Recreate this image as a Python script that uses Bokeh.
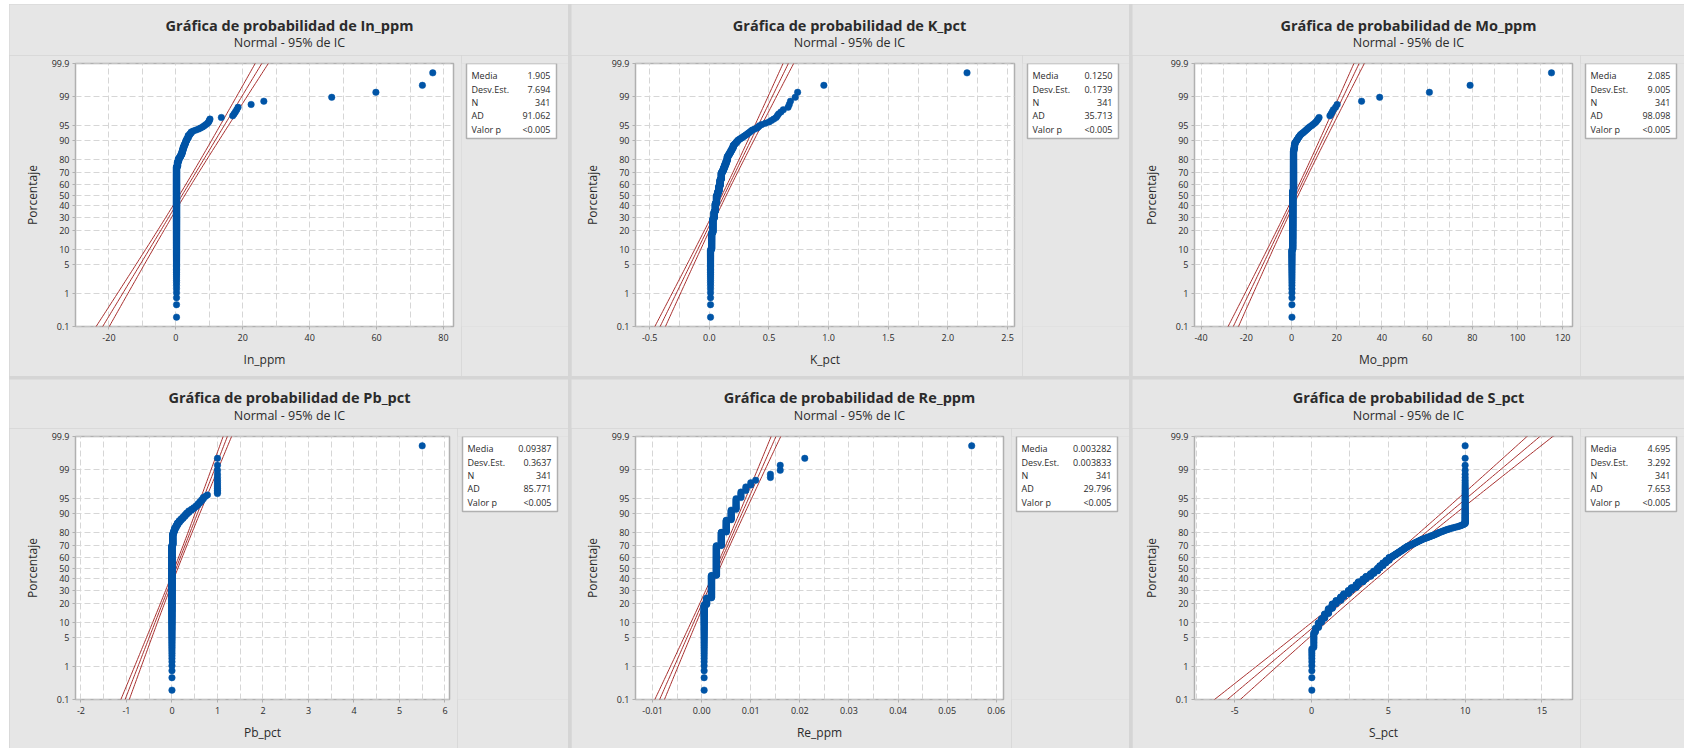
import math
import numpy as np
from bokeh.plotting import figure
from bokeh.layouts import row, column
from bokeh.models import FixedTicker, Range1d, Spacer
from bokeh.core.properties import value
from bokeh.embed import file_html
from bokeh.resources import INLINE

# ---------------- data (sorted values as runs: value, count) ----------------
in_ppm_values = [0.2, 0.5, 0.8, 1.2, 1.5, 1.8, 2.0, 2.2, 2.5, 2.8, 3.0, 3.3, 3.7, 4.2, 4.6,
                 5.2, 6.0, 6.8, 7.4, 8.0, 8.5, 9.0, 9.5, 9.8, 10.0, 10.2, 13.6,
                 17.0, 17.4, 17.8, 18.2, 18.6, 22.5, 26.3, 46.6, 59.8, 73.7, 76.8]
in_ppm_counts = [255, 12, 8, 4, 4, 5, 4, 5, 4, 3, 3, 3, 4, 2, 2] + [1] * 23

k_pct_values = [0.01, 0.02, 0.03, 0.04, 0.05, 0.06, 0.07, 0.08, 0.09, 0.10,
                0.11, 0.12, 0.13, 0.14, 0.15, 0.16, 0.17, 0.18, 0.19, 0.20,
                0.21, 0.22, 0.23, 0.24, 0.25, 0.26, 0.27, 0.28, 0.29, 0.30,
                0.31, 0.32, 0.33, 0.34, 0.35, 0.36, 0.38, 0.40, 0.41, 0.42,
                0.44, 0.47, 0.50, 0.52, 0.54, 0.56, 0.57, 0.58,
                0.60, 0.62, 0.66, 0.67, 0.68, 0.72, 0.74, 0.96, 2.16]
k_pct_counts = [34, 30, 35, 20, 25, 25, 12, 18, 20, 20,
                6, 8, 8, 8, 10, 4, 4, 4, 4, 5,
                2, 2, 2, 2, 1] + [1] * 32

mo_ppm_values = [0.2, 0.6, 0.9, 1.1, 1.3, 1.5, 1.8, 2.0, 2.2, 2.4, 2.6, 2.8, 3.0, 3.2, 3.5, 3.8,
                 4.0, 4.5, 5.0, 5.5, 6.0, 6.5, 7.0, 7.5, 8.0, 8.8,
                 9.5, 10.2, 10.8, 11.3, 11.8, 12.2, 17.0, 17.5, 18.0, 18.5, 19.5, 20.2,
                 31.0, 39.0, 61.0, 79.0, 115.0]
mo_ppm_counts = [34, 150, 106, 5, 5, 4] + [1] * 37

pb_pct_values = [0.0, 0.02, 0.04, 0.06, 0.09, 0.12, 0.16, 0.2, 0.24, 0.28, 0.32, 0.37,
                 0.43, 0.48, 0.53, 0.57, 0.61, 0.65, 0.69, 0.74, 0.78, 1.0, 5.5]
pb_pct_counts = [240, 30, 6, 6, 5, 5, 4, 3, 3, 3, 3, 3, 2, 2, 2, 2, 2, 2, 2, 1, 1, 13, 1]

re_ppm_values = [0.0005, 0.001, 0.002, 0.003, 0.004, 0.005, 0.006, 0.007, 0.008, 0.009,
                 0.010, 0.011, 0.014, 0.016, 0.021, 0.055]
re_ppm_counts = [66, 16, 65, 92, 34, 24, 15, 12, 5, 3, 2, 1, 2, 2, 1, 1]

s_pct_values = [0.02, 0.15, 0.25, 0.45, 0.65, 0.85, 1.1, 1.35, 1.6, 1.9, 2.1, 2.4, 2.6, 2.9,
                3.05, 3.35, 3.55, 3.85, 4.05, 4.3, 4.45, 4.65, 4.85, 5.05,
                5.2, 5.27, 5.33, 5.4, 5.47, 5.53, 5.6, 5.67, 5.73, 5.8, 5.87, 5.93,
                6.0, 6.07, 6.13, 6.2, 6.27,
                6.35, 6.4, 6.45, 6.5, 6.55, 6.6, 6.65, 6.7, 6.75, 6.8, 6.85, 6.9,
                6.95, 7.0, 7.05, 7.1, 7.15,
                7.2, 7.27, 7.34, 7.41, 7.48, 7.55, 7.62, 7.69, 7.76, 7.83, 7.9,
                7.97, 8.04, 8.1, 8.16, 8.22, 8.28, 8.34,
                8.42, 8.5, 8.58, 8.66, 8.74, 8.82, 8.9,
                9.0, 9.12, 9.24, 9.36, 9.5, 9.6, 9.7, 9.78, 9.85, 9.92, 10.0]
s_pct_counts = [10, 12, 5, 7, 6, 8, 10, 10] + [8, 9] * 8 + [2] * 17 + [1] * 52 + [51]

# summary statistics shown in the boxes
stat_names = ["Media", "Desv.Est.", "N", "AD", "Valor p"]
in_ppm_stats = ["1.905", "7.694", "341", "91.062", "<0.005"]
k_pct_stats = ["0.1250", "0.1739", "341", "35.713", "<0.005"]
mo_ppm_stats = ["2.085", "9.005", "341", "98.098", "<0.005"]
pb_pct_stats = ["0.09387", "0.3637", "341", "85.771", "<0.005"]
re_ppm_stats = ["0.003282", "0.003833", "341", "29.796", "<0.005"]
s_pct_stats = ["4.695", "3.292", "341", "7.653", "<0.005"]

# axis ticks
pct_ticks = [0.1, 1, 5, 10, 20, 30, 40, 50, 60, 70, 80, 90, 95, 99, 99.9]
pct_labels = ["0.1", "1", "5", "10", "20", "30", "40", "50", "60", "70", "80", "90", "95", "99", "99.9"]

in_ppm_xticks = [-20, 0, 20, 40, 60, 80]
in_ppm_xlabels = ["-20", "0", "20", "40", "60", "80"]
k_pct_xticks = [-0.5, 0.0, 0.5, 1.0, 1.5, 2.0, 2.5]
k_pct_xlabels = ["-0.5", "0.0", "0.5", "1.0", "1.5", "2.0", "2.5"]
mo_ppm_xticks = [-40, -20, 0, 20, 40, 60, 80, 100, 120]
mo_ppm_xlabels = ["-40", "-20", "0", "20", "40", "60", "80", "100", "120"]
pb_pct_xticks = [-2, -1, 0, 1, 2, 3, 4, 5, 6]
pb_pct_xlabels = ["-2", "-1", "0", "1", "2", "3", "4", "5", "6"]
re_ppm_xticks = [-0.01, 0.0, 0.01, 0.02, 0.03, 0.04, 0.05, 0.06]
re_ppm_xlabels = ["-0.01", "0.00", "0.01", "0.02", "0.03", "0.04", "0.05", "0.06"]
s_pct_xticks = [-5, 0, 5, 10, 15]
s_pct_xlabels = ["-5", "0", "5", "10", "15"]

# ---------------- helpers ----------------
def norm_cdf(z):
    return 0.5 * (1.0 + math.erf(z / math.sqrt(2.0)))

def norm_ppf(p):
    lo, hi = -10.0, 10.0
    for _ in range(80):
        mid = 0.5 * (lo + hi)
        if norm_cdf(mid) < p:
            lo = mid
        else:
            hi = mid
    return 0.5 * (lo + hi)

ZMIN = norm_ppf(0.001)
ZMAX = norm_ppf(0.999)

PANEL = "#e6e6e6"
FRAME = "#b0b0b0"
GRID = "#d6d6d6"
DOT = "#0054a6"
LINE = "#a8302f"
TXT = "#2b2b2b"
FONT = "Open Sans"
FH = 263
BOX_H = 75
TB = 8   # top border of the plot figure
RB = 8   # right border of the plot figure


def blank(width, height, xr, yr, mb=(0, 0, 0, 0)):
    f = figure(width=width, height=height, title=None, output_backend="svg",
               toolbar_location=None, x_range=Range1d(*xr), y_range=Range1d(*yr),
               min_border_left=mb[0], min_border_right=mb[1],
               min_border_top=mb[2], min_border_bottom=mb[3],
               border_fill_color=PANEL, background_fill_color=PANEL,
               outline_line_color=None)
    f.axis.visible = False
    f.grid.visible = False
    return f


def make_panel(name, values, counts, stats, xr, xticks, xlabels,
               pw, ph, top, left, fw, box_w, t_off, s_off):
    x = np.repeat(np.array(values, dtype=float), counts)
    n = len(x)
    z = np.array([norm_ppf((i - 0.3) / (n + 0.4)) for i in range(1, n + 1)])

    main_w = left + fw + RB
    body_h = ph - top + TB
    bottom = body_h - TB - FH

    # title strip
    th = top - TB
    tf = blank(pw, th, (0, pw), (0, th))
    tf.text(x=[left + 214], y=[t_off - TB], text=["Gráfica de probabilidad de " + name],
            text_align="center", text_baseline="middle", text_font=value(FONT),
            text_font_style="bold", text_font_size="14.5px", text_color=TXT)
    tf.text(x=[left + 214], y=[s_off - TB], text=["Normal - 95% de IC"],
            text_align="center", text_baseline="middle", text_font=value(FONT),
            text_font_size="12.5px", text_color=TXT)

    # main probability plot
    p = figure(width=main_w, height=body_h, title=None,
               x_range=Range1d(xr[0], xr[1]), y_range=Range1d(ZMIN - 1e-6, ZMAX + 1e-6),
               output_backend="svg", toolbar_location=None,
               min_border_left=left, min_border_right=RB,
               min_border_top=TB, min_border_bottom=bottom,
               border_fill_color=PANEL, background_fill_color="white",
               outline_line_color=FRAME, outline_line_width=1.5)

    step = xticks[1] - xticks[0]
    minor = [t + step / 2.0 for t in [xticks[0] - step] + xticks]
    p.xaxis.ticker = FixedTicker(ticks=xticks, minor_ticks=minor)
    p.xaxis.major_label_overrides = {t: l for t, l in zip(xticks, xlabels)}
    yt = [norm_ppf(v / 100.0) for v in pct_ticks]
    p.yaxis.ticker = FixedTicker(ticks=yt)
    p.yaxis.major_label_overrides = {t: l for t, l in zip(yt, pct_labels)}

    for ax in (p.xaxis[0], p.yaxis[0]):
        ax.axis_line_color = None
        ax.major_tick_line_color = FRAME
        ax.major_tick_in = 0
        ax.major_tick_out = 3
        ax.minor_tick_line_color = None
        ax.major_label_text_font = FONT
        ax.major_label_text_font_size = "9px"
        ax.major_label_text_color = TXT
        ax.major_label_standoff = 3
        ax.axis_label_text_font = FONT
        ax.axis_label_text_font_size = "12px"
        ax.axis_label_text_font_style = "normal"
        ax.axis_label_text_color = TXT
    p.xaxis.axis_label = name
    p.xaxis.axis_label_standoff = 7
    p.yaxis.axis_label = "Porcentaje"
    p.yaxis.axis_label_standoff = 8

    for g in (p.xgrid[0], p.ygrid[0]):
        g.grid_line_color = GRID
        g.grid_line_dash = "6 3"
        g.grid_line_width = 1
    p.xgrid.minor_grid_line_color = GRID
    p.xgrid.minor_grid_line_dash = "6 3"

    # fitted normal line and 95% confidence bounds from the reported mean / std
    mean = float(stats[0])
    sd = float(stats[1])
    nn = int(stats[2])
    zz = np.linspace(ZMIN - 0.4, ZMAX + 0.4, 121)
    fit = mean + zz * sd
    half = 1.96 * sd / math.sqrt(nn) * np.sqrt(1.0 + zz ** 2 / 2.0)
    for xs in (fit - half, fit, fit + half):
        p.line(xs, zz, line_color=LINE, line_width=1)

    p.scatter(x, z, size=6.5, fill_color=DOT, line_color=DOT, line_width=0.5)

    # statistics box (same vertical borders as the main plot)
    sw = pw - main_w
    sb = blank(sw, body_h, (0, sw), (0, FH), mb=(0, 0, TB, bottom))
    bl = 13 - RB
    sb.quad(left=[bl], right=[bl + box_w], bottom=[FH - BOX_H], top=[FH],
            fill_color="white", line_color=FRAME, line_width=1.5)
    offs = [12, 25.6, 39, 52.3, 65.6]
    ys = [FH - o for o in offs]
    sb.text(x=[bl + 5] * 5, y=ys, text=stat_names, text_align="left", text_baseline="middle",
            text_font=value(FONT), text_font_size="9px", text_color=TXT)
    sb.text(x=[bl + box_w - 6] * 5, y=ys, text=stats, text_align="right", text_baseline="middle",
            text_font=value(FONT), text_font_size="9px", text_color=TXT)

    return column(tf, row(p, sb, spacing=0), spacing=0)


p1 = make_panel("In_ppm", in_ppm_values, in_ppm_counts, in_ppm_stats, (-30, 83),
                in_ppm_xticks, in_ppm_xlabels, 559, 372, 59, 66, 378, 90, 38.4, 21)
p2 = make_panel("K_pct", k_pct_values, k_pct_counts, k_pct_stats, (-0.619, 2.558),
                k_pct_xticks, k_pct_xlabels, 558, 372, 59, 64, 379, 91, 38.4, 21)
p3 = make_panel("Mo_ppm", mo_ppm_values, mo_ppm_counts, mo_ppm_stats, (-42.9, 124.3),
                mo_ppm_xticks, mo_ppm_xlabels, 552, 372, 59, 62, 378, 91, 38.4, 21)
p4 = make_panel("Pb_pct", pb_pct_values, pb_pct_counts, pb_pct_stats, (-2.12, 6.10),
                pb_pct_xticks, pb_pct_xlabels, 559, 369, 57, 66, 374, 95, 39, 21.3)
p5 = make_panel("Re_ppm", re_ppm_values, re_ppm_counts, re_ppm_stats, (-0.01348, 0.06148),
                re_ppm_xticks, re_ppm_xlabels, 558, 369, 57, 64, 368, 101, 39, 21.3)
p6 = make_panel("S_pct", s_pct_values, s_pct_counts, s_pct_stats, (-7.62, 16.99),
                s_pct_xticks, s_pct_xlabels, 552, 369, 57, 62, 378, 91, 39, 21.3)

grid = column(row(p1, p2, p3, spacing=3), row(p4, p5, p6, spacing=3), spacing=3,
              styles={"background-color": "#d5d5d5"})
layout = column(Spacer(height=4), row(Spacer(width=9), grid, spacing=0), spacing=0)

html = file_html(layout, INLINE).replace("<body>", '<body style="background-color:#f0f0f0">', 1)
open("out.html", "w").write(html)
